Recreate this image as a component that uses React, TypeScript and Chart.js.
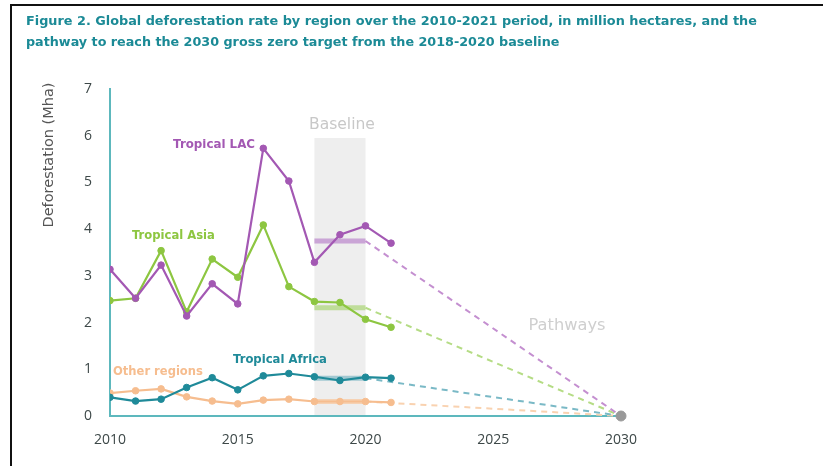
import React, { useEffect, useRef } from "react";
import { Chart, registerables } from "chart.js";

Chart.register(...registerables);

const years = [2010, 2011, 2012, 2013, 2014, 2015, 2016, 2017, 2018, 2019, 2020, 2021];
const lacValues = [3.14, 2.52, 3.23, 2.14, 2.83, 2.4, 5.73, 5.03, 3.29, 3.88, 4.07, 3.7];
const asiaValues = [2.47, 2.52, 3.54, 2.23, 3.36, 2.97, 4.09, 2.77, 2.45, 2.43, 2.07, 1.9];
const africaValues = [0.4, 0.32, 0.36, 0.61, 0.82, 0.56, 0.86, 0.91, 0.84, 0.76, 0.83, 0.81];
const otherValues = [0.49, 0.54, 0.58, 0.41, 0.32, 0.26, 0.34, 0.36, 0.31, 0.31, 0.31, 0.29];
const baselineStart = 2018;
const baselineEnd = 2020;
const targetYear = 2030;
const targetValue = 0;
const baselineShadeTop = 5.95;
const xTicks = [2010, 2015, 2020, 2025, 2030];
const yTicks = [0, 1, 2, 3, 4, 5, 6, 7];

const TITLE_1 = "Figure 2. Global deforestation rate by region over the 2010-2021 period, in million hectares, and the";
const TITLE_2 = "pathway to reach the 2030 gross zero target from the 2018-2020 baseline";

const FONT = "'DejaVu Sans', 'Open Sans', sans-serif";
const TICK_FONT = "'Open Sans', 'DejaVu Sans', sans-serif";

const regions = [
  { name: "Tropical LAC", values: lacValues, color: "#a358b3", band: "rgba(190,140,205,0.75)", dash: "#c48fd0" },
  { name: "Tropical Asia", values: asiaValues, color: "#8dc641", band: "rgba(175,215,125,0.75)", dash: "#b5dc85" },
  { name: "Tropical Africa", values: africaValues, color: "#1f8a99", band: "rgba(110,175,190,0.6)", dash: "#7ab9c6" },
  { name: "Other regions", values: otherValues, color: "#f6bd8f", band: "rgba(248,200,160,0.75)", dash: "#f9d2b0" },
];

function baselineOf(values: number[]) {
  const sel = years
    .map((y, i) => ({ y, v: values[i] }))
    .filter((d) => d.y >= baselineStart && d.y <= baselineEnd)
    .map((d) => d.v);
  return sel.reduce((a, b) => a + b, 0) / sel.length;
}

function fitText(
  ctx: CanvasRenderingContext2D,
  text: string,
  x: number,
  y: number,
  width: number,
  weight: string,
  align: CanvasTextAlign
) {
  ctx.font = `${weight} 20px ${FONT}`;
  const w = ctx.measureText(text).width;
  const size = (20 * width) / w;
  ctx.font = `${weight} ${size}px ${FONT}`;
  ctx.textAlign = align;
  ctx.textBaseline = "middle";
  ctx.fillText(text, x, y);
}

export default function App() {
  const ref = useRef<HTMLCanvasElement | null>(null);

  useEffect(() => {
    if (!ref.current) return;
    const datasets: any[] = [];
    regions.forEach((r, idx) => {
      datasets.push({
        label: r.name,
        data: years.map((y, i) => ({ x: y, y: r.values[i] })),
        borderColor: r.color,
        backgroundColor: r.color,
        pointBackgroundColor: r.color,
        pointBorderColor: r.color,
        pointRadius: 3.3,
        pointBorderWidth: 1,
        borderWidth: 2.2,
        tension: 0,
        order: 10 + idx,
      });
    });
    regions.forEach((r, idx) => {
      const b = baselineOf(r.values);
      datasets.push({
        label: r.name + " baseline",
        data: [
          { x: baselineStart, y: b },
          { x: baselineEnd, y: b },
        ],
        borderColor: r.band,
        borderWidth: 5,
        pointRadius: 0,
        order: 30 + idx,
      });
      datasets.push({
        label: r.name + " pathway",
        data: [
          { x: baselineEnd, y: b },
          { x: targetYear, y: targetValue },
        ],
        borderColor: r.dash,
        borderWidth: 2,
        borderDash: [6, 5],
        pointRadius: 0,
        clip: false,
        order: 40 + idx,
      });
    });
    datasets.push({
      label: "Target",
      data: [{ x: targetYear, y: targetValue }],
      borderColor: "#999999",
      backgroundColor: "#999999",
      pointBackgroundColor: "#999999",
      pointBorderColor: "#999999",
      pointRadius: 5,
      showLine: false,
      clip: false,
      order: 1,
    });

    const decor = {
      id: "decor",
      beforeDatasetsDraw(chart: any) {
        const { ctx, scales } = chart;
        const x1 = scales.x.getPixelForValue(baselineStart);
        const x2 = scales.x.getPixelForValue(baselineEnd);
        const yTop = scales.y.getPixelForValue(baselineShadeTop);
        const yBot = scales.y.getPixelForValue(0) - 1;
        ctx.save();
        ctx.fillStyle = "#eeeeee";
        ctx.fillRect(x1, yTop, x2 - x1, yBot - yTop);
        ctx.fillStyle = "#c8c8c8";
        fitText(ctx, "Baseline", (x1 + x2) / 2 + 2, 125, 66, "normal", "center");
        ctx.restore();
      },
      afterDraw(chart: any) {
        const { ctx } = chart;
        ctx.save();
        // frame
        ctx.fillStyle = "#111111";
        ctx.fillRect(10, 4, 813, 2);
        ctx.fillRect(10, 4, 2, 462);
        // title
        ctx.fillStyle = "#1b8a96";
        fitText(ctx, TITLE_1, 26, 22, 731, "bold", "left");
        fitText(ctx, TITLE_2, 26, 43, 534, "bold", "left");
        // y title
        ctx.save();
        ctx.translate(49, 155);
        ctx.rotate(-Math.PI / 2);
        ctx.fillStyle = "#555555";
        fitText(ctx, "Deforestation (Mha)", 0, 0, 145, "normal", "center");
        ctx.restore();
        // series labels
        ctx.fillStyle = regions[0].color;
        fitText(ctx, "Tropical LAC", 255, 145, 82, "bold", "right");
        ctx.fillStyle = regions[1].color;
        fitText(ctx, "Tropical Asia", 132, 236, 83, "bold", "left");
        ctx.fillStyle = regions[2].color;
        fitText(ctx, "Tropical Africa", 233, 360, 94, "bold", "left");
        ctx.fillStyle = regions[3].color;
        fitText(ctx, "Other regions", 113, 372, 90, "bold", "left");
        // pathways
        ctx.fillStyle = "#cfcfcf";
        fitText(ctx, "Pathways", 567, 326, 77, "normal", "center");
        ctx.restore();
      },
    };

    const chart = new Chart(ref.current, {
      type: "line",
      data: { datasets },
      options: {
        responsive: false,
        animation: false,
        layout: { padding: { left: 0, right: 202, top: 89, bottom: 0 } },
        plugins: { legend: { display: false }, tooltip: { enabled: false } },
        scales: {
          x: {
            type: "linear",
            min: 2010,
            max: 2030,
            afterBuildTicks: (s: any) => {
              s.ticks = xTicks.map((v) => ({ value: v }));
            },
            afterFit: (s: any) => {
              s.height = 50;
            },
            grid: { display: false, drawTicks: false },
            border: { display: true, color: "#5db8bd", width: 2 },
            ticks: {
              padding: 16,
              color: "#3d4848",
              font: { family: TICK_FONT, size: 14 },
              callback: (v: any) => String(v),
              maxRotation: 0,
              autoSkip: false,
            },
          },
          y: {
            type: "linear",
            min: 0,
            max: 7,
            afterBuildTicks: (s: any) => {
              s.ticks = yTicks.map((v) => ({ value: v }));
            },
            afterFit: (s: any) => {
              s.width = 110;
            },
            grid: { display: false, drawTicks: false },
            border: { display: true, color: "#5db8bd", width: 2 },
            ticks: {
              padding: 18,
              color: "#3d4848",
              font: { family: TICK_FONT, size: 14 },
              callback: (v: any) => String(v),
            },
          },
        },
      },
      plugins: [decor],
    });
    return () => chart.destroy();
  }, []);

  return (
    <div style={{ position: "absolute", left: 0, top: 0, width: 823, height: 466, background: "#ffffff" }}>
      <canvas ref={ref} width={823} height={466} style={{ display: "block", width: 823, height: 466 }} />
    </div>
  );
}
